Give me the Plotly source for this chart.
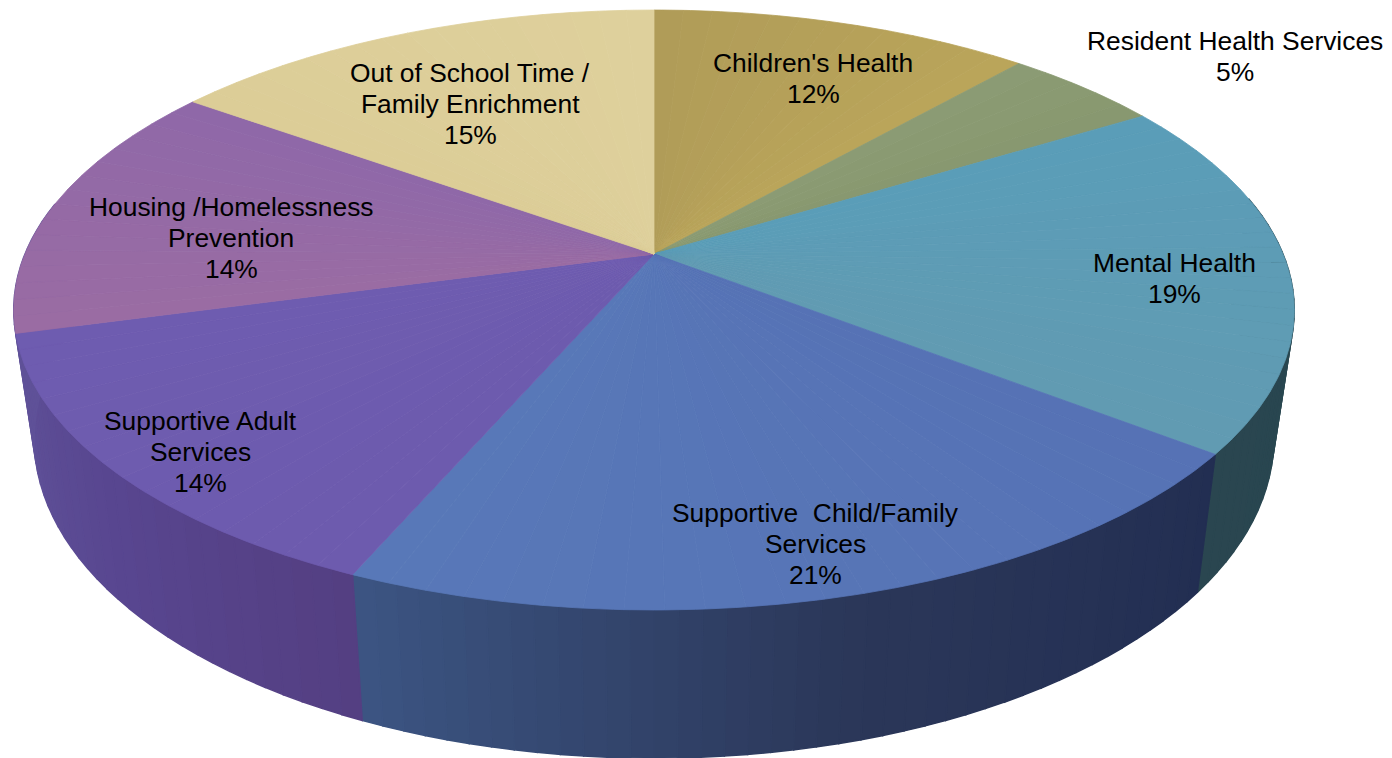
import numpy as np
import plotly.graph_objects as go

categories = ["Children's Health", "Resident Health Services", "Mental Health",
              "Supportive\u00a0 Child/Family<br>Services", "Supportive Adult<br>Services",
              "Housing /Homelessness<br>Prevention", "Out of School Time /<br>Family Enrichment"]
values = [11.5, 4.75, 19.25, 21.0, 14.3, 14.1, 15.1]
percent_labels = ["12%", "5%", "19%", "21%", "14%", "14%", "15%"]

top_start = ["#B09C58", "#8B9B74", "#5A9DB8", "#5672B5", "#6D5BAE", "#9A6CA3", "#DCCD97"]
top_end = ["#BAA55A", "#88986F", "#619BB2", "#5878B8", "#6E5CB0", "#8F68A8", "#DED09C"]
wall_start = ["#2A3A40", "#2A3A40", "#264853", "#222E52", "#543F82", "#5F5198", "#5F5198"]
wall_mid = ["#2A3A40", "#2A3A40", "#284750", "#2B3759", "#584690", "#5F5198", "#5F5198"]
wall_end = ["#2A3A40", "#2A3A40", "#2A4650", "#3C5583", "#5F5198", "#5F5198", "#5F5198"]

label_x = [813, 1235, 1174, 815, 200, 231, 470]
label_y = [63, 41, 263, 513, 421, 207, 73]

CX, CY, A, B, K = 654.0, 254.0, 289.5, 629.0, -0.1867
SX, SY, Y0 = 0.968, 1.065, 379.0


def top_ring(f):
    t = 2 * np.pi * np.asarray(f)
    u, v = np.sin(t), -np.cos(t)
    d = 1 + K * v
    return CX + B * u / d, CY + A * v / d


def low_ring(f):
    x, y = top_ring(f)
    return CX + SX * (x - CX), Y0 + SY * (y - CY)


def mix(c1, c2, w):
    a = [int(c1[i:i + 2], 16) for i in (1, 3, 5)]
    b = [int(c2[i:i + 2], 16) for i in (1, 3, 5)]
    return "rgb(%d,%d,%d)" % tuple(round(p + (q - p) * w) for p, q in zip(a, b))


def mix3(c1, c2, c3, w):
    return mix(c1, c2, w * 2) if w < .5 else mix(c2, c3, (w - .5) * 2)


def poly(xs, ys, color, width=0.8):
    return go.Scatter(x=xs, y=ys, mode="lines", fill="toself", fillcolor=color,
                      line=dict(color=color, width=width), hoverinfo="skip", showlegend=False)


fig = go.Figure()
edges = np.concatenate([[0], np.cumsum(values)]) / np.sum(values)

# side walls (only the near half shows)
for i in range(len(values)):
    n = max(3, int((edges[i + 1] - edges[i]) * 200))
    fs = np.linspace(edges[i], edges[i + 1], n + 1)
    for j in range(n):
        a, b = fs[j], fs[j + 1]
        if not (0.22 < (a + b) / 2 < 0.78):
            continue
        ff = np.linspace(a, b, 3)
        xt, yt = top_ring(ff)
        xl, yl = low_ring(ff)
        fig.add_trace(poly(np.r_[xt, xl[::-1], xt[0]], np.r_[yt, yl[::-1], yt[0]],
                           mix3(wall_start[i], wall_mid[i], wall_end[i], (j + .5) / n), 1.5))

# top face, as a fan per slice
for i in range(len(values)):
    n = max(3, int((edges[i + 1] - edges[i]) * 120))
    fs = np.linspace(edges[i], edges[i + 1], n + 1)
    for j in range(n):
        ff = np.linspace(fs[j], fs[j + 1], 5)
        x, y = top_ring(ff)
        fig.add_trace(poly(np.r_[CX, x, CX], np.r_[CY, y, CY],
                           mix(top_start[i], top_end[i], (j + .5) / n)))

for name, pct, lx, ly in zip(categories, percent_labels, label_x, label_y):
    for k, line in enumerate(name.split("<br>") + [pct]):
        fig.add_annotation(x=lx, y=ly + 31 * k, text=line, showarrow=False, xanchor="center",
                           yanchor="middle", font=dict(family="Liberation Sans", size=26.4, color="#000000"))

fig.update_layout(width=1392, height=758, margin=dict(l=0, r=0, t=0, b=0),
                  paper_bgcolor="white", plot_bgcolor="white", showlegend=False, hovermode=False,
                  xaxis=dict(range=[0, 1392], visible=False, fixedrange=True),
                  yaxis=dict(range=[758, 0], visible=False, fixedrange=True))
fig.write_html("out.html", post_script="document.body.style.margin='0';",
               config=dict(displayModeBar=False))
